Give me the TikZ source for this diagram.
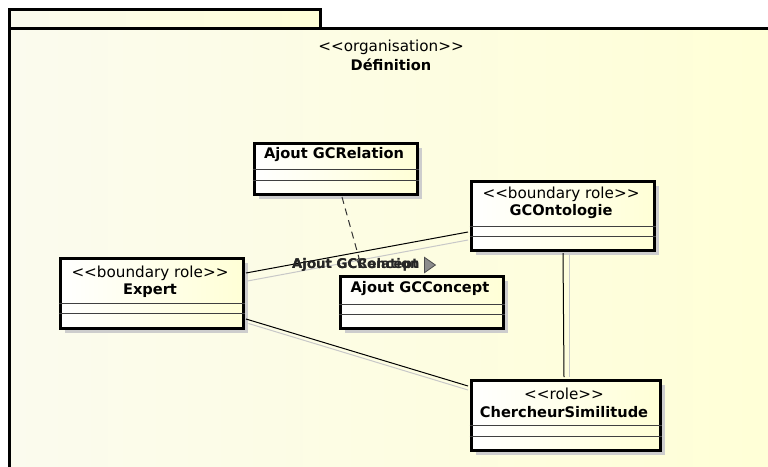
\documentclass[tikz,border=0pt]{standalone}
\usepackage{fontspec}
\newfontfamily\umlfont{DejaVu Sans}
\usetikzlibrary{shadows,shapes.geometric}
\definecolor{paleyel}{RGB}{255,255,214}
\definecolor{bgleft}{RGB}{251,251,238}
\definecolor{shadowgrey}{RGB}{205,205,205}
\definecolor{linegrey}{RGB}{200,200,200}
\tikzset{
  cls/.style={draw=black, line width=3pt, left color=white, right color=paleyel,
    anchor=north west, inner sep=0pt,
    drop shadow={shadow xshift=5pt, shadow yshift=-5pt, fill=shadowgrey, opacity=1}},
  comp/.style={draw=black!75, line width=0.9pt},
  stereo/.style={font=\umlfont\fontsize{15.2}{17}\selectfont, inner sep=0pt, text=black},
  ttl/.style={font=\umlfont\bfseries\fontsize{14.6}{17}\selectfont, inner sep=0pt, text=black},
  lbl/.style={font=\umlfont\bfseries\fontsize{13.3}{15}\selectfont, inner sep=0pt, text=black!85, anchor=west},
  assoc/.style={draw=black, line width=1pt},
  assocgrey/.style={draw=linegrey, line width=1pt},
  dep/.style={draw=black!80, line width=1pt, dash pattern=on 7pt off 5pt},
}
\begin{document}
\begin{tikzpicture}[x=1pt,y=-1pt]
\useasboundingbox (0,0) rectangle (768,466);
\begin{scope}
\clip (0,0) rectangle (768,466);
% package frame
\fill[left color=bgleft, right color=paleyel] (9,9) rectangle (320,28);
\fill[left color=bgleft, right color=paleyel] (9,28) rectangle (790,490);
\draw[line width=3pt] (9,28) -- (9,9) -- (320,9) -- (320,28);
\draw[line width=3pt] (9,490) -- (9,28) -- (790,28);
\end{scope}
\node[stereo] (pst) at (391,47) {<<organisation>>};
\node[ttl] (pname) at (391,65) {Définition};

% classes
\node[cls, minimum width=163pt, minimum height=51pt] (rel) at (252.5,141.5) {};
\node[ttl] (relT) at (334,155) {Ajout GCRelation};
\draw[comp] ([yshift=-28pt]rel.north west) -- ([yshift=-28pt]rel.north east);
\draw[comp] ([yshift=-39pt]rel.north west) -- ([yshift=-39pt]rel.north east);

\node[cls, minimum width=183pt, minimum height=69pt] (ont) at (469.5,179.5) {};
\node[stereo] (ontS) at (561,194) {<<boundary role>>};
\node[ttl] (ontT) at (561,212) {GCOntologie};
\draw[comp] ([yshift=-47pt]ont.north west) -- ([yshift=-47pt]ont.north east);
\draw[comp] ([yshift=-57pt]ont.north west) -- ([yshift=-57pt]ont.north east);

\node[cls, minimum width=183pt, minimum height=70pt] (exp) at (58.5,256.5) {};
\node[stereo] (expS) at (150,273) {<<boundary role>>};
\node[ttl] (expT) at (150,291) {Expert};
\draw[comp] ([yshift=-46.5pt]exp.north west) -- ([yshift=-46.5pt]exp.north east);
\draw[comp] ([yshift=-56.5pt]exp.north west) -- ([yshift=-56.5pt]exp.north east);

\node[cls, minimum width=163pt, minimum height=52pt] (con) at (338.5,274.5) {};
\node[ttl] (conT) at (420,289) {Ajout GCConcept};
\draw[comp] ([yshift=-29.5pt]con.north west) -- ([yshift=-29.5pt]con.north east);
\draw[comp] ([yshift=-39.5pt]con.north west) -- ([yshift=-39.5pt]con.north east);

\node[cls, minimum width=189pt, minimum height=70pt] (cs) at (469.5,378.5) {};
\node[stereo] (csS) at (564,394) {<<role>>};
\node[ttl] (csT) at (564,412) {ChercheurSimilitude};
\draw[comp] ([yshift=-46.5pt]cs.north west) -- ([yshift=-46.5pt]cs.north east);
\draw[comp] ([yshift=-57.5pt]cs.north west) -- ([yshift=-57.5pt]cs.north east);

% associations
\draw[assocgrey] ([xshift=3pt,yshift=-24.5pt]exp.north east) -- ([xshift=-1.5pt,yshift=-60.5pt]ont.north west);
\draw[assoc] ([xshift=1.5pt,yshift=-16.5pt]exp.north east) -- ([xshift=-1.5pt,yshift=-52.5pt]ont.north west);

\draw[assocgrey] ([xshift=4pt,yshift=-67pt]exp.north east) -- ([xshift=-1.5pt,yshift=-11.5pt]cs.north west);
\draw[assoc] ([xshift=1.5pt,yshift=-62.5pt]exp.north east) -- ([xshift=-1.5pt,yshift=-7.5pt]cs.north west);

\draw[assocgrey] ([xshift=99.5pt,yshift=-1.5pt]ont.south west) -- ([xshift=99.5pt,yshift=1.5pt]cs.north west);
\draw[assoc] ([xshift=93.5pt,yshift=-1.5pt]ont.south west) -- ([xshift=94.5pt,yshift=1.5pt]cs.north west);

% dependency and labels
\coordinate (depend) at (359,258);
\draw[dep] ([xshift=89.5pt,yshift=-1.5pt]rel.south west) -- (depend);
\draw[black!80, line width=0.8pt] (depend) .. controls (356,261) .. (362,266);
\node[lbl] (lblA) at (292,265) {Ajout GCRelation};
\node[lbl] (lblB) at (292,265) {Ajout GCConcept};
\node[isosceles triangle, isosceles triangle apex angle=70, draw=black!70, fill=black!45,
  line width=0.8pt, minimum height=11pt, inner sep=0pt, anchor=west] (tri) at (424,265) {};
\end{tikzpicture}
\end{document}
